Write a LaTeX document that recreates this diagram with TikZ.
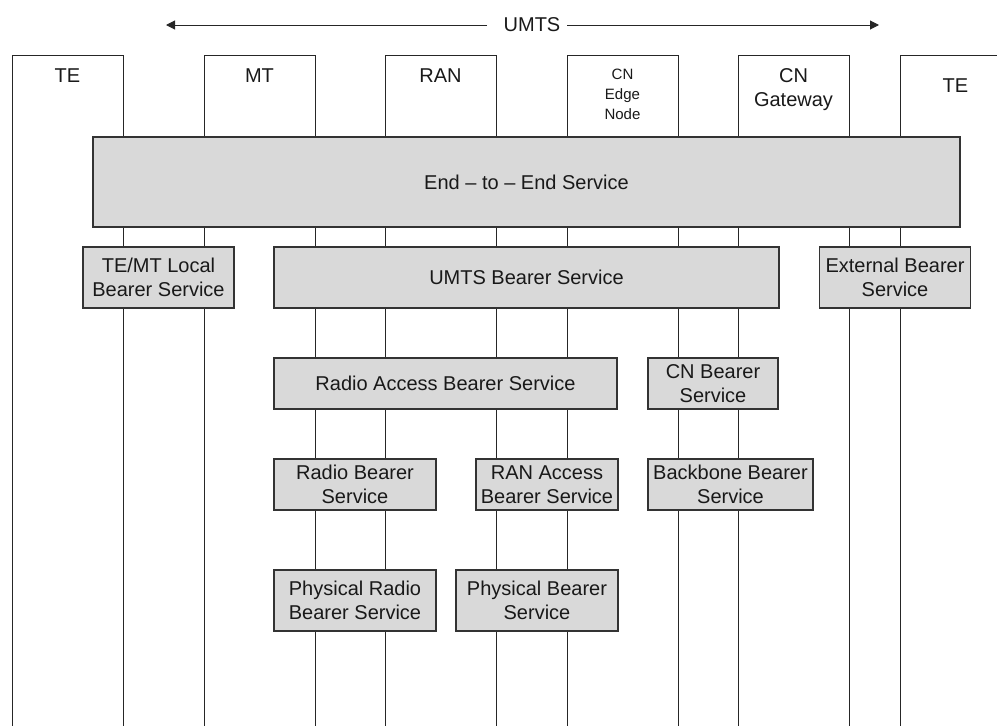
\documentclass[tikz,border=0pt]{standalone}
\usepackage{fontspec}
\setmainfont{Liberation Sans}
\usetikzlibrary{arrows.meta}
\begin{document}
\begin{tikzpicture}[x=1pt,y=-1pt,
  lifeline/.style={draw=black!85, line width=1pt},
  svc/.style={draw=black!80, fill=black!15, line width=1.2pt, inner sep=0pt,
    align=center, text=black!90, font=\fontsize{20}{24}\selectfont},
  hdr/.style={anchor=base, inner sep=0pt, align=center, text=black!90,
    font=\fontsize{20}{24}\selectfont},
  hdrsmall/.style={hdr, font=\fontsize{15}{20}\selectfont},
  span/.style={draw=black!85, line width=1pt, -{Triangle[length=9pt,width=9pt]}}]
\useasboundingbox (0,0) rectangle (997,726);
\clip (0,0) rectangle (997,726);

% network elements: open boxes whose sides run down the page
\foreach \l/\r in {12/123, 204/315, 385/496, 567/678, 738/849, 900/1011}
  \draw[lifeline] (\l,726) -- (\l,55) -- (\r,55) -- (\r,726);

% element names
\node[hdr] (te1) at (67.5,82) {TE};
\node[hdr] (mt)  at (259.5,82) {MT};
\node[hdr] (ran) at (440.5,82) {RAN};
\node[hdrsmall] (cne) at (622.5,79) {CN};
\node[hdrsmall] (cne2) at (622.5,99) {Edge};
\node[hdrsmall] (cne3) at (622.5,119) {Node};
\node[hdr] (cng) at (793.5,82) {CN};
\node[hdr] (cng2) at (793.5,106) {Gateway};
\node[hdr] (te2) at (955.5,92) {TE};

% UMTS span arrow
\node[hdr] (umts) at (532,31.7) {UMTS};
\coordinate (ltip) at (166,25);
\coordinate (rtip) at (879,25);
\coordinate (la) at (487,25);
\coordinate (ra) at (567,25);
\draw[span] (la) -- (ltip);
\draw[span] (ra) -- (rtip);

% bearer services
\node[svc, minimum width=867pt, minimum height=90pt] (e2e) at (526.5,182) {End -- to -- End Service};

\node[svc, minimum width=151pt, minimum height=61pt] (local) at (158.5,277.5) {TE/MT Local\\Bearer Service};
\node[svc, minimum width=505pt, minimum height=61pt] (umtsb) at (526.5,277.5) {UMTS Bearer Service};
\node[svc, minimum width=151pt, minimum height=61pt] (ext) at (895,277.5) {External Bearer\\Service};

\node[svc, minimum width=343pt, minimum height=51pt] (rab) at (445.5,383.5) {Radio Access Bearer Service};
\node[svc, minimum width=130pt, minimum height=51pt] (cnb) at (713,383.5) {CN Bearer\\Service};

\node[svc, minimum width=162pt, minimum height=51pt] (rb) at (355,484.5) {Radio Bearer\\Service};
\node[svc, minimum width=142pt, minimum height=51pt] (ranab) at (547,484.5) {RAN Access\\Bearer Service};
\node[svc, minimum width=165pt, minimum height=51pt] (bb) at (730.5,484.5) {Backbone Bearer\\Service};

\node[svc, minimum width=162pt, minimum height=61pt] (prb) at (355,600.5) {Physical Radio\\Bearer Service};
\node[svc, minimum width=162pt, minimum height=61pt] (pb) at (537,600.5) {Physical Bearer\\Service};
\end{tikzpicture}
\end{document}
